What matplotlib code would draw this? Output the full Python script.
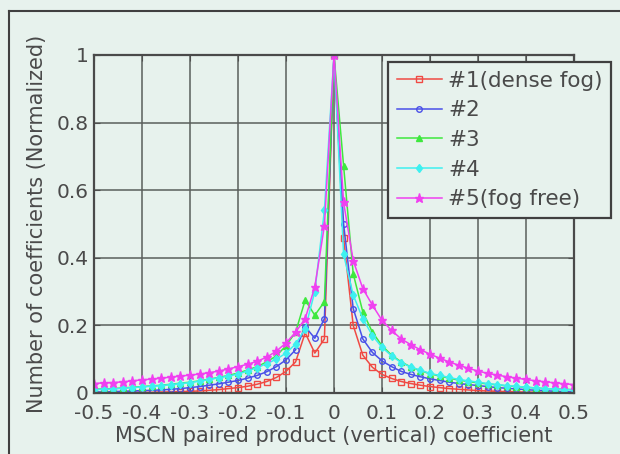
import matplotlib
matplotlib.use("Agg")
import matplotlib.pyplot as plt
import numpy as np
from matplotlib.lines import Line2D

# bin centres of the MSCN histogram
x_vals = np.round(np.linspace(-0.5, 0.5, 51), 2)

fog_1 = [0.001, 0.001, 0.001, 0.001, 0.002, 0.002, 0.002, 0.003, 0.003, 0.004,
         0.005, 0.006, 0.008, 0.010, 0.013, 0.016, 0.020, 0.026, 0.034, 0.046,
         0.064, 0.092, 0.178, 0.118, 0.160, 1.000, 0.458, 0.200, 0.112, 0.076,
         0.055, 0.043, 0.034, 0.028, 0.023, 0.019, 0.016, 0.013, 0.011, 0.009,
         0.007, 0.006, 0.005, 0.004, 0.003, 0.003, 0.002, 0.002, 0.001, 0.001,
         0.001]
fog_2 = [0.003, 0.003, 0.004, 0.005, 0.006, 0.007, 0.008, 0.009, 0.011, 0.013,
         0.016, 0.019, 0.023, 0.027, 0.032, 0.037, 0.044, 0.052, 0.063, 0.078,
         0.098, 0.128, 0.196, 0.162, 0.220, 1.000, 0.500, 0.250, 0.160, 0.120,
         0.095, 0.078, 0.064, 0.055, 0.048, 0.042, 0.037, 0.032, 0.028, 0.025,
         0.022, 0.019, 0.016, 0.014, 0.012, 0.010, 0.008, 0.007, 0.005, 0.004,
         0.003]
fog_3 = [0.011, 0.012, 0.013, 0.015, 0.017, 0.019, 0.021, 0.023, 0.026, 0.029,
         0.032, 0.036, 0.041, 0.046, 0.052, 0.059, 0.068, 0.078, 0.092, 0.110,
         0.140, 0.180, 0.275, 0.230, 0.270, 1.000, 0.672, 0.353, 0.240, 0.180,
         0.140, 0.112, 0.092, 0.077, 0.066, 0.057, 0.050, 0.044, 0.038, 0.034,
         0.030, 0.027, 0.024, 0.021, 0.019, 0.017, 0.015, 0.013, 0.012, 0.011,
         0.010]
fog_4 = [0.010, 0.011, 0.012, 0.014, 0.016, 0.018, 0.020, 0.022, 0.025, 0.028,
         0.031, 0.035, 0.040, 0.045, 0.050, 0.056, 0.065, 0.075, 0.087, 0.100,
         0.118, 0.145, 0.190, 0.300, 0.540, 1.000, 0.410, 0.290, 0.220, 0.170,
         0.135, 0.110, 0.090, 0.077, 0.067, 0.058, 0.052, 0.046, 0.040, 0.036,
         0.032, 0.028, 0.025, 0.022, 0.020, 0.017, 0.015, 0.013, 0.012, 0.010,
         0.009]
fog_5 = [0.028, 0.030, 0.031, 0.033, 0.036, 0.039, 0.041, 0.044, 0.047, 0.050,
         0.053, 0.056, 0.060, 0.065, 0.071, 0.078, 0.085, 0.094, 0.106, 0.124,
         0.148, 0.180, 0.220, 0.314, 0.495, 1.000, 0.564, 0.392, 0.309, 0.260,
         0.215, 0.185, 0.160, 0.143, 0.128, 0.115, 0.103, 0.092, 0.082, 0.073,
         0.065, 0.058, 0.053, 0.048, 0.044, 0.040, 0.036, 0.033, 0.030, 0.027,
         0.025]

labels = ["#1(dense fog)", "#2", "#3", "#4", "#5(fog free)"]
x_ticks = [-0.5, -0.4, -0.3, -0.2, -0.1, 0, 0.1, 0.2, 0.3, 0.4, 0.5]
x_tick_labels = ["-0.5", "-0.4", "-0.3", "-0.2", "-0.1", "0",
                 "0.1", "0.2", "0.3", "0.4", "0.5"]
y_ticks = [0, 0.2, 0.4, 0.6, 0.8, 1]
y_tick_labels = ["0", "0.2", "0.4", "0.6", "0.8", "1"]

bg = "#e7f2ed"
txt = "#4a4a4a"
plt.rcParams["font.family"] = ["DejaVu Sans"]

fig = plt.figure(figsize=(6.2, 4.54), dpi=100, facecolor=bg)
ax = fig.add_axes([94 / 620, 1 - 393 / 454, 480 / 620, 338 / 454])
ax.set_facecolor(bg)

styles = [
    dict(color="#f04a44", marker="s", mfc="none", ms=4),
    dict(color="#4a50e8", marker="o", mfc="none", ms=4),
    dict(color="#3ee83e", marker="^", ms=4.5),
    dict(color="#3ef0f0", marker="d", ms=4.5),
    dict(color="#f040f0", marker="*", ms=6.5),
]
for series, label, st in zip([fog_1, fog_2, fog_3, fog_4, fog_5], labels, styles):
    ax.plot(x_vals, series, lw=1.1, mew=1.0, label=label, **st)

ax.set_xlim(-0.5, 0.5)
ax.set_ylim(0, 1)
ax.set_xticks(x_ticks)
ax.set_xticklabels(x_tick_labels)
ax.set_yticks(y_ticks)
ax.set_yticklabels(y_tick_labels)
ax.grid(True, color="#5a5f5c", lw=1.1)
ax.tick_params(direction="in", top=True, right=True, length=4,
               colors="#505050", labelcolor=txt, labelsize=14.5)
ax.tick_params(axis="x", pad=8)
ax.tick_params(axis="y", pad=4)
for sp in ax.spines.values():
    sp.set_color("#4a4a4a")
    sp.set_linewidth(1.6)

ax.set_xlabel("MSCN paired product (vertical) coefficient", fontsize=15,
              color=txt, labelpad=2)
ax.set_ylabel("Number of coefficients (Normalized)", fontsize=15,
              color=txt, labelpad=7)

leg = ax.legend(loc="upper left", bbox_to_anchor=(388 / 620, 1 - 62 / 454),
                bbox_transform=fig.transFigure, borderaxespad=0,
                fontsize=15.5, frameon=True, fancybox=False, framealpha=1,
                facecolor=bg, edgecolor="#404040", handlelength=2.1,
                handletextpad=0.3, labelspacing=0.45, borderpad=0.4)
leg.get_frame().set_linewidth(1.6)
for t in leg.get_texts():
    t.set_color(txt)

# outer frame of the picture
fig.add_artist(Line2D([9 / 620, 9 / 620], [0, 1 - 11 / 454],
                      transform=fig.transFigure, color="#404040", lw=1.5))
fig.add_artist(Line2D([9 / 620, 1], [1 - 11 / 454, 1 - 11 / 454],
                      transform=fig.transFigure, color="#404040", lw=1.5))

fig.savefig("out.png", dpi=100, facecolor=bg)
